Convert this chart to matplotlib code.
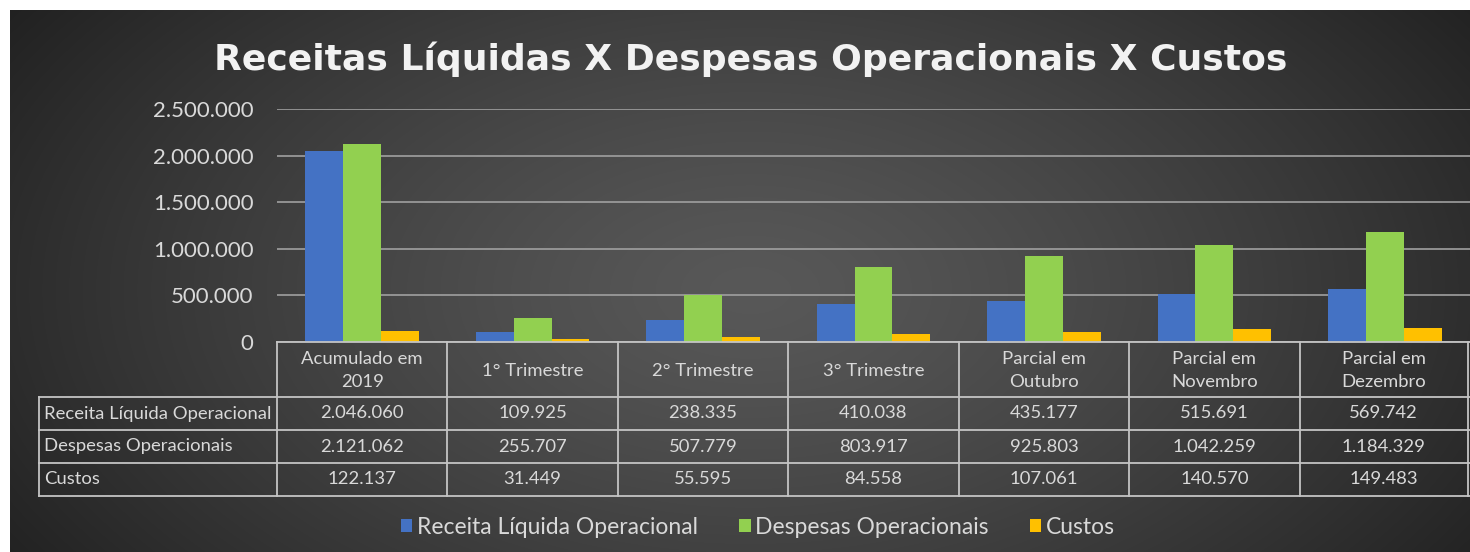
import numpy as np
import matplotlib
matplotlib.use("Agg")
import matplotlib.pyplot as plt
from matplotlib.patches import Patch

# ---------------- data ----------------
categories = ["Acumulado em\n2019", "1° Trimestre", "2° Trimestre", "3° Trimestre",
              "Parcial em\nOutubro", "Parcial em\nNovembro", "Parcial em\nDezembro"]
series_names = ["Receita Líquida Operacional", "Despesas Operacionais", "Custos"]
receita = [2046060, 109925, 238335, 410038, 435177, 515691, 569742]
despesas = [2121062, 255707, 507779, 803917, 925803, 1042259, 1184329]
custos = [122137, 31449, 55595, 84558, 107061, 140570, 149483]
yticks = [0, 500000, 1000000, 1500000, 2000000, 2500000]
title = "Receitas Líquidas X Despesas Operacionais X Custos"

series = [receita, despesas, custos]
colors = ["#4472C4", "#92D050", "#FFC000"]

def fmt(v):
    return f"{v:,}".replace(",", ".")

W, H = 1470, 552
FONT = "Lato"
TXT = "#d9d9d9"

fig = plt.figure(figsize=(W / 100, H / 100), dpi=100, facecolor="white")

# ---------------- background (radial gradient) ----------------
bg = fig.add_axes([10 / W, 0, (W - 10) / W, (H - 10) / H])
bg.set_axis_off()
yy, xx = np.mgrid[0:H - 10, 0:W - 10]
cx, cy = 740, 280
r = np.sqrt(((xx - cx) / 900.0) ** 2 + ((yy - cy) / 520.0) ** 2)
t = np.clip(r, 0, 1) ** 1.3
c_center = np.array([0x58, 0x58, 0x58]) / 255
c_edge = np.array([0x20, 0x20, 0x20]) / 255
img = c_center[None, None, :] * (1 - t[..., None]) + c_edge[None, None, :] * t[..., None]
bg.imshow(img, aspect="auto", interpolation="bilinear")

# ---------------- main bar axes ----------------
x_left, x_right = 277, 1470
y_top, y_zero = 109, 342
ax = fig.add_axes([x_left / W, (H - y_zero) / H, (x_right - x_left) / W, (y_zero - y_top) / H])
ax.patch.set_alpha(0)
n = len(categories)
x = np.arange(n)
bw = 0.222
for k, (vals, col) in enumerate(zip(series, colors)):
    ax.bar(x + (k - 1) * bw, vals, width=bw, color=col, zorder=3, label=series_names[k])
ax.set_xlim(-0.5, n - 0.5)
ax.set_ylim(0, 2500000)
ax.set_yticks(yticks)
ax.set_yticklabels([fmt(v) for v in yticks], fontsize=16, color=TXT, family=FONT)
ax.tick_params(axis="y", length=0, pad=17)
ax.set_xticks([])
ax.yaxis.grid(True, color="#a0a0a0", linewidth=1.2, zorder=0)
for s in ax.spines.values():
    s.set_visible(False)

# ---------------- table (overlay, pixel coordinates) ----------------
ov = fig.add_axes([0, 0, 1, 1])
ov.set_xlim(0, W)
ov.set_ylim(H, 0)
ov.set_axis_off()
ov.patch.set_alpha(0)

lc = "#c4c4c4"
lw = 1.3
label_left = 39
col_w = (x_right - x_left) / n
col_edges = [x_left + i * col_w for i in range(n + 1)]
col_edges[-1] = W - 2
row_lines = [342, 397, 430, 463, 496]
TFS = 13.3

ov.plot([x_left, W], [row_lines[0]] * 2, color=lc, lw=lw)
for yl in row_lines[1:]:
    ov.plot([label_left, W], [yl] * 2, color=lc, lw=lw)
ov.plot([label_left, label_left], [row_lines[1], row_lines[-1]], color=lc, lw=lw)
for xe in col_edges:
    ov.plot([xe, xe], [row_lines[0], row_lines[-1]], color=lc, lw=lw)

for i, cat in enumerate(categories):
    cxp = (col_edges[i] + col_edges[i + 1]) / 2
    ov.text(cxp, (row_lines[0] + row_lines[1]) / 2 + 1, cat, ha="center", va="center",
            fontsize=TFS, color=TXT, family=FONT, linespacing=1.6)
for r_i, (name, vals) in enumerate(zip(series_names, series)):
    yc = (row_lines[r_i + 1] + row_lines[r_i + 2]) / 2
    ov.text(label_left + 5, yc, name, ha="left", va="center", fontsize=TFS, color=TXT, family=FONT)
    for i, v in enumerate(vals):
        cxp = (col_edges[i] + col_edges[i + 1]) / 2
        ov.text(cxp, yc, fmt(v), ha="center", va="center", fontsize=TFS, color=TXT, family=FONT)

# ---------------- title ----------------
fig.text(751 / W, 1 - 59 / H, title, ha="center", va="center", fontsize=26,
         fontweight="bold", color="#f2f2f2", family="DejaVu Sans")

# ---------------- legend ----------------
handles = [Patch(facecolor=c, edgecolor="none") for c in colors]
leg = fig.legend(handles, series_names, loc="center", bbox_to_anchor=(758 / W, 1 - 527 / H),
                 ncol=3, frameon=False, handlelength=0.5, handleheight=0.5,
                 handletextpad=0.2, columnspacing=1.8,
                 prop={"family": FONT, "size": 16.5})
for t_ in leg.get_texts():
    t_.set_color(TXT)

fig.savefig("out.png", dpi=100, facecolor=fig.get_facecolor())
